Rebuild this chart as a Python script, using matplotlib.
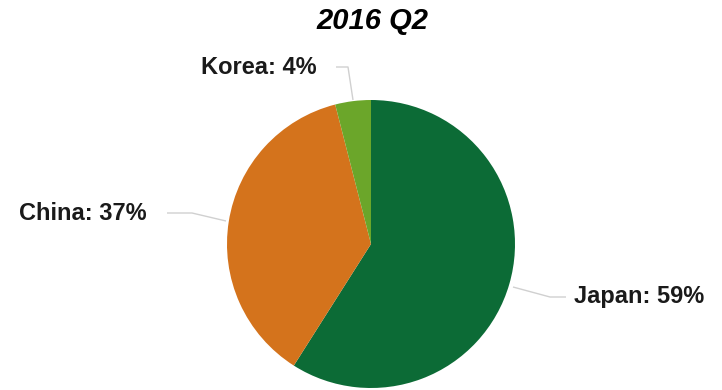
import matplotlib
matplotlib.use("Agg")
import matplotlib.pyplot as plt

title = "2016 Q2"
countries = ["Japan", "China", "Korea"]
shares = [59, 37, 4]
colors = ["#0C6B36", "#D4731C", "#6BA62A"]

W, H = 722, 390
fig = plt.figure(figsize=(W / 100, H / 100), dpi=100)
ax = fig.add_axes([0, 0, 1, 1])

# pie in pixel-like data coordinates (y measured from bottom)
cx, cy, r = 371, H - 244, 144
ax.pie(shares, colors=colors, startangle=90, counterclock=False,
       center=(cx, cy), radius=r, wedgeprops=dict(linewidth=0))
ax.set_xlim(0, W)
ax.set_ylim(0, H)
ax.set_aspect("equal")
ax.axis("off")

font = dict(family=["Liberation Sans", "DejaVu Sans"], fontweight="bold",
            color="#1a1a1a")
line_kw = dict(color="#d0d0d0", linewidth=1.0, solid_capstyle="butt")

# label positions and leader lines (in y-from-top pixels, converted below)
labels = {
    "Japan": dict(xy=(574, 297), ha="left",
                  path=[(513, 287), (550, 297), (566, 297)]),
    "China": dict(xy=(147, 214), ha="right",
                  path=[(226, 221), (192, 213), (167, 213)]),
    "Korea": dict(xy=(317, 67), ha="right",
                  path=[(353, 100), (348, 67), (336, 67)]),
}

for name, val in zip(countries, shares):
    spec = labels[name]
    xs = [p[0] for p in spec["path"]]
    ys = [H - p[1] for p in spec["path"]]
    ax.plot(xs, ys, **line_kw)
    x, y = spec["xy"]
    ax.text(x, H - y, f"{name}: {val}%", ha=spec["ha"], va="center",
            fontsize=17, **font)

ax.text(372, H - 21, title, ha="center", va="center", fontsize=21,
        fontstyle="italic", fontweight="bold",
        family=["Liberation Sans", "DejaVu Sans"], color="black")

fig.savefig("out.png", dpi=100)
